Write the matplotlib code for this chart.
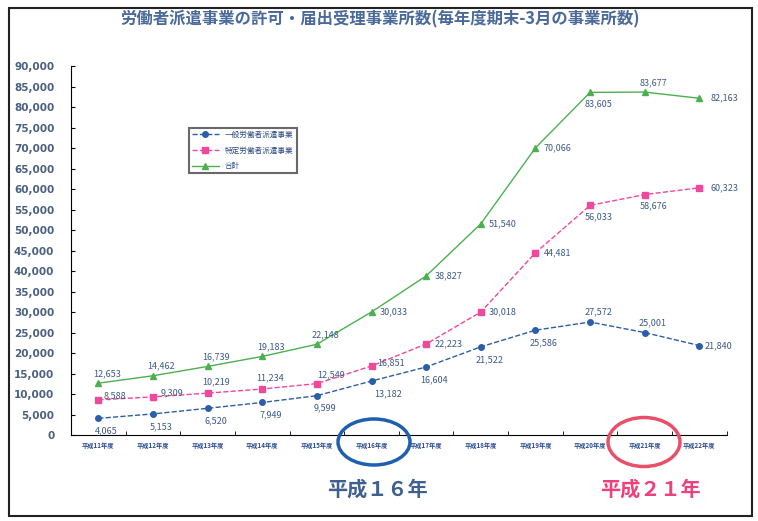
import numpy as np
import matplotlib.pyplot as plt
from matplotlib.patches import Ellipse, Rectangle

plt.rcParams['font.family'] = ['Noto Sans CJK JP', 'DejaVu Sans']

# datos
anios = ['平成11年度', '平成12年度', '平成13年度', '平成14年度', '平成15年度', '平成16年度',
         '平成17年度', '平成18年度', '平成19年度', '平成20年度', '平成21年度', '平成22年度']
ippan = [4065, 5153, 6520, 7949, 9599, 13182, 16604, 21522, 25586, 27572, 25001, 21840]
tokutei = [8588, 9309, 10219, 11234, 12549, 16851, 22223, 30018, 44481, 56033, 58676, 60323]
goukei = [12653, 14462, 16739, 19183, 22148, 30033, 38827, 51540, 70066, 83605, 83677, 82163]
nombres = ['一般労働者派遣事業', '特定労働者派遣事業', '合計']

# desplazamiento de etiquetas (puntos)
off_ip = [(6, -9), (6, -9), (6, -9), (6, -9), (6, -9), (12, -9), (6, -9), (6, -9), (6, -9), (6, 7), (6, 7), (14, 0)]
off_to = [(12, 3), (14, 3), (6, 8), (6, 8), (10, 6), (14, 2), (16, 0), (16, 0), (16, 0), (6, -8), (6, -8), (18, 0)]
off_go = [(6, 7), (6, 7), (6, 7), (6, 7), (6, 7), (16, 0), (16, 0), (16, 0), (16, 0), (6, -8), (6, 7), (18, 0)]

x = np.arange(len(anios))
fig = plt.figure(figsize=(7.58, 5.21), dpi=100)
ax = fig.add_axes([0.0937, 0.165, 0.865, 0.708])

ax.plot(x, ippan, '--', color='#2b5ea8', lw=1, marker='o', ms=4, label=nombres[0])
ax.plot(x, tokutei, '--', color='#f0489a', lw=1, marker='s', ms=5, label=nombres[1])
ax.plot(x, goukei, '-', color='#4cb050', lw=1, marker='^', ms=5, label=nombres[2])

lab_col = '#3d5a86'
for serie, offs in [(ippan, off_ip), (tokutei, off_to), (goukei, off_go)]:
    for i, v in enumerate(serie):
        ax.annotate(f'{v:,}', (x[i], v), xytext=offs[i], textcoords='offset points',
                    ha='center', va='center', fontsize=6.5, color=lab_col)

ax.set_xlim(-0.5, len(anios) - 0.5)
ax.set_ylim(0, 90000)
ax.set_yticks(np.arange(0, 90001, 5000))
ax.set_yticklabels([f'{v:,}' for v in range(0, 90001, 5000)], fontsize=7.5, color='#4a6080',
                   fontweight='bold', family=['DejaVu Sans'])
ax.set_xticks(x)
ax.set_xticklabels(anios, fontsize=4.5, color='#2a4a90', fontweight='bold')
ax.set_xticks(np.arange(-0.5, len(anios), 1), minor=True)
ax.tick_params(axis='x', which='major', length=0, pad=5)
ax.tick_params(axis='x', which='minor', length=3, direction='in')
ax.tick_params(axis='y', length=3, direction='in', pad=12)
ax.spines['top'].set_visible(False)
ax.spines['right'].set_visible(False)

leg = ax.legend(loc='upper left', bbox_to_anchor=(0.174, 0.843), fontsize=5.5, frameon=True,
                fancybox=False, edgecolor='#444444', handlelength=3.5, labelspacing=1.0)
leg.get_frame().set_linewidth(1.5)
for t in leg.get_texts():
    t.set_color('#2a4a80')

fig.text(0.502, 0.963, '労働者派遣事業の許可・届出受理事業所数(毎年度期末-3月の事業所数)',
         ha='center', va='center', fontsize=11.8, fontweight='bold', color='#4a6a9a')

W, H = 758, 521
fig.patches.append(Ellipse((374 / W, 1 - 442 / H), 72 / W, 46 / H, transform=fig.transFigure,
                           fill=False, ec='#1f5fb0', lw=2.5))
fig.patches.append(Ellipse((644 / W, 1 - 442 / H), 72 / W, 49 / H, transform=fig.transFigure,
                           fill=False, ec='#e8506a', lw=2.5))
fig.patches.append(Rectangle((9 / W, 1 - 516 / H), 743 / W, 508 / H, transform=fig.transFigure,
                             fill=False, ec='#222222', lw=1.5))

fig.text(377 / W, 1 - 489 / H, '平成１６年', ha='center', va='center', fontsize=14.5,
         fontweight='bold', color='#3f5f8f')
fig.text(650 / W, 1 - 489 / H, '平成２１年', ha='center', va='center', fontsize=14.5,
         fontweight='bold', color='#f0407a')

fig.savefig('out.png', dpi=100)
